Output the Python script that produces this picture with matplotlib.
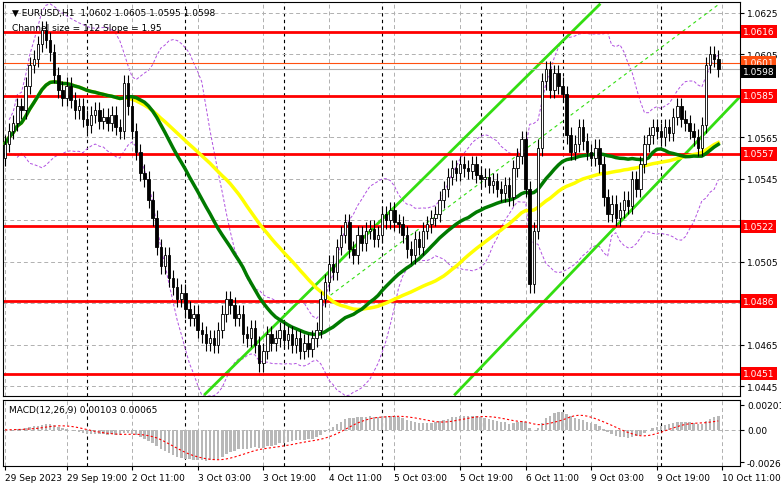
import matplotlib
matplotlib.use("Agg")
import matplotlib.pyplot as plt
import numpy as np
import pandas as pd

closes = [1.0562,1.0568,1.0572,1.0580,1.0578,1.0590,1.0600,1.0603,
1.0610,1.0617,1.0612,1.0606,1.0595,
1.0588,1.0584,1.0590,1.0583,1.0578,1.0580,
1.0574,1.0571,1.0576,1.0578,1.0573,1.0575,1.0572,1.0576,1.0570,1.0568,
1.0591,1.0580,1.0568,
1.0558,1.0548,1.0545,1.0535,1.0526,1.0512,1.0503,1.0508,1.0497,
1.0493,1.0487,1.0490,1.0482,1.0478,1.0480,1.0472,1.0470,1.0466,1.0468,
1.0465,1.0472,1.0480,1.0487,1.0484,
1.0478,1.0480,1.0470,1.0468,1.0473,1.0465,1.0456,
1.0462,1.0470,1.0466,1.0468,1.0472,1.0467,1.0470,1.0465,1.0468,1.0462,1.0466,1.0463,1.0468,1.0472,
1.0487,1.0495,1.0504,1.0500,1.0512,1.0518,1.0524,1.0511,1.0508,
1.0518,1.0514,1.0520,1.0521,1.0516,1.0518,1.0528,1.0525,1.0530,1.0524,
1.0523,1.0518,1.0511,1.0508,1.0516,1.0512,1.0520,1.0523,1.0526,1.0528,
1.0535,1.0540,1.0546,1.0550,1.0548,1.0552,1.0550,1.0549,1.0552,1.0547,
1.0545,1.0546,1.0542,1.0544,1.0540,1.0538,1.0542,1.0536,1.0550,1.0556,
1.0564,1.0540,1.0494,1.0520,
1.0560,1.0592,1.0598,1.0588,1.0596,1.0590,
1.0586,1.0566,1.0558,1.0562,1.0570,1.0563,1.0558,1.0555,1.0560,
1.0552,1.0536,1.0528,1.0533,1.0526,1.0530,1.0535,1.0532,
1.0545,1.0540,1.0552,1.0562,1.0566,1.0570,1.0568,1.0565,
1.0570,1.0567,1.0575,1.0580,1.0574,1.0572,1.0568,1.0565,
1.0560,1.0571,1.0600,1.0605,1.0603,1.0598]
first_open = 1.0555
wick = 0.0004

levels = [1.0616, 1.0585, 1.0557, 1.0522, 1.0486, 1.0451]
price_ticks = [1.0625, 1.0605, 1.0585, 1.0565, 1.0545, 1.0525, 1.0505, 1.0485, 1.0465, 1.0445]
hidden_ticks = [1.0585, 1.0525, 1.0485]
date_pos = [0, 15, 31, 47, 63, 79, 95, 111, 127, 143, 159, 175]
date_labels = ["29 Sep 2023", "29 Sep 19:00", "2 Oct 11:00", "3 Oct 03:00", "3 Oct 19:00",
               "4 Oct 11:00", "5 Oct 03:00", "5 Oct 19:00", "6 Oct 11:00", "9 Oct 03:00",
               "9 Oct 19:00", "10 Oct 11:00"]
day_sep = [20, 44, 68, 92, 116, 136, 160]
chan_upper = ([48.8, 145.0], [1.04411, 1.0629])
chan_lower = ([109.8, 179.0], [1.0441, 1.0584])
chan_mid = ([76.8, 174.0], [1.0485, 1.0629])

c = np.array(closes)
o = np.concatenate([[first_open], c[:-1]])
hi = np.maximum(o, c) + wick
lo = np.minimum(o, c) - wick
n = len(c)
idx = np.arange(n)
s = pd.Series(c)
ma_g = s.rolling(30, min_periods=1).mean()
ma_y = s.rolling(50, min_periods=1).mean()
bm = s.rolling(20, min_periods=1).mean(); bs = s.rolling(20, min_periods=2).std()
ema12 = s.ewm(span=12).mean(); ema26 = s.ewm(span=26).mean()
macd = ema12 - ema26; sig = macd.rolling(9, min_periods=1).mean()

W, H = 781, 489
FS = 6.5
fig = plt.figure(figsize=(7.81, 4.89), dpi=100)
fig.patch.set_facecolor("white")
ax = fig.add_axes([3/W, 1-397/H, 737/W, 394/H])
ax2 = fig.add_axes([3/W, 1-467/H, 737/W, 66/H])
xl = (-0.5, 179.3)
for a in (ax, ax2):
    a.set_xlim(*xl)
    for sp in a.spines.values():
        sp.set_color("black"); sp.set_linewidth(0.8)
    a.yaxis.tick_right()
    a.tick_params(axis="y", length=3, labelsize=FS, pad=2)
    for p in date_pos:
        a.axvline(p, color="#b0b0b0", ls=(0, (4, 3)), lw=0.7, zorder=0)
    for p in day_sep:
        a.axvline(p, color="black", ls=(0, (3, 3)), lw=0.8, zorder=0)
ax.set_ylim(1.04402, 1.06303)
ax.set_yticks(price_ticks)
ax.set_yticklabels(["" if v in hidden_ticks else f"{v:.4f}" for v in price_ticks])
for v in price_ticks:
    ax.axhline(v, color="#b0b0b0", ls=(0, (4, 3)), lw=0.7, zorder=0)
ax.set_xticks([])
ax.plot(idx, bm + 2*bs, color="#b050e0", ls=(0, (3, 2)), lw=0.7)
ax.plot(idx, bm - 2*bs, color="#b050e0", ls=(0, (3, 2)), lw=0.7)
ax.plot(*chan_upper, color="#33dd11", lw=2)
ax.plot(*chan_lower, color="#33dd11", lw=2)
ax.plot(*chan_mid, color="#33dd11", lw=0.8, ls=(0, (3, 3)))
for v in levels:
    ax.axhline(v, color="#ff0000", lw=2, zorder=2)
ax.axhline(1.0601, color="#ff5010", lw=0.8)
ax.axhline(c[-1], color="#b0b0b0", lw=0.8)
ax.plot(idx, ma_y, color="#ffff00", lw=2.5, zorder=3)
ax.plot(idx, ma_g, color="#007a00", lw=2.5, zorder=3)
for i in range(n):
    ax.vlines(i, lo[i], hi[i], color="black", lw=0.8, zorder=4)
    bot, top = min(o[i], c[i]), max(o[i], c[i])
    fc = "white" if c[i] >= o[i] else "black"
    ax.bar(i, max(top-bot, 0.00005), bottom=bot, width=0.6, facecolor=fc, edgecolor="black", lw=0.6, zorder=5)
for v in levels:
    ax.annotate(f"{v:.4f}", xy=(1, v), xycoords=("axes fraction", "data"), xytext=(2, 0),
                textcoords="offset points", va="center", ha="left", fontsize=FS, color="white",
                bbox=dict(boxstyle="square,pad=0.25", fc="#ff0000", ec="none"), annotation_clip=False)
ax.annotate("1.0601", xy=(1, 1.0601), xycoords=("axes fraction", "data"), xytext=(2, 0),
            textcoords="offset points", va="center", ha="left", fontsize=FS, color="white",
            bbox=dict(boxstyle="square,pad=0.2", fc="#ff5010", ec="none"), annotation_clip=False)
ax.annotate(f"{c[-1]:.4f}", xy=(1, c[-1]), xycoords=("axes fraction", "data"), xytext=(2, -2),
            textcoords="offset points", va="center", ha="left", fontsize=FS, color="white",
            bbox=dict(boxstyle="square,pad=0.2", fc="black", ec="none"), annotation_clip=False)
ax.text(0.012, 0.985, "\u25bc EURUSD,H1  1.0602 1.0605 1.0595 1.0598", transform=ax.transAxes,
        fontsize=FS, va="top", ha="left")
ax.text(0.012, 0.947, "Channel size = 112 Slope = 1.95", transform=ax.transAxes,
        fontsize=FS, va="top", ha="left")
ax2.bar(idx, macd, width=0.6, color="#b8b8b8", zorder=2)
ax2.plot(idx, sig, color="#ff0000", ls=(0, (2, 2)), lw=0.8, zorder=3)
ax2.set_ylim(-0.0029, 0.0024)
ax2.set_yticks([0.00201, 0.0, -0.0026])
ax2.set_yticklabels(["0.00201", "0.00", "-0.0026"])
ax2.axhline(0.0, color="#b0b0b0", ls=(0, (4, 3)), lw=0.7, zorder=0)
ax2.set_xticks(date_pos)
ax2.set_xticklabels(date_labels, ha="left", fontsize=FS)
ax2.tick_params(axis="x", length=3, pad=2)
ax2.text(0.008, 0.93, "MACD(12,26,9) 0.00103 0.00065", transform=ax2.transAxes, fontsize=FS, va="top")
fig.savefig("out.png", dpi=100)
